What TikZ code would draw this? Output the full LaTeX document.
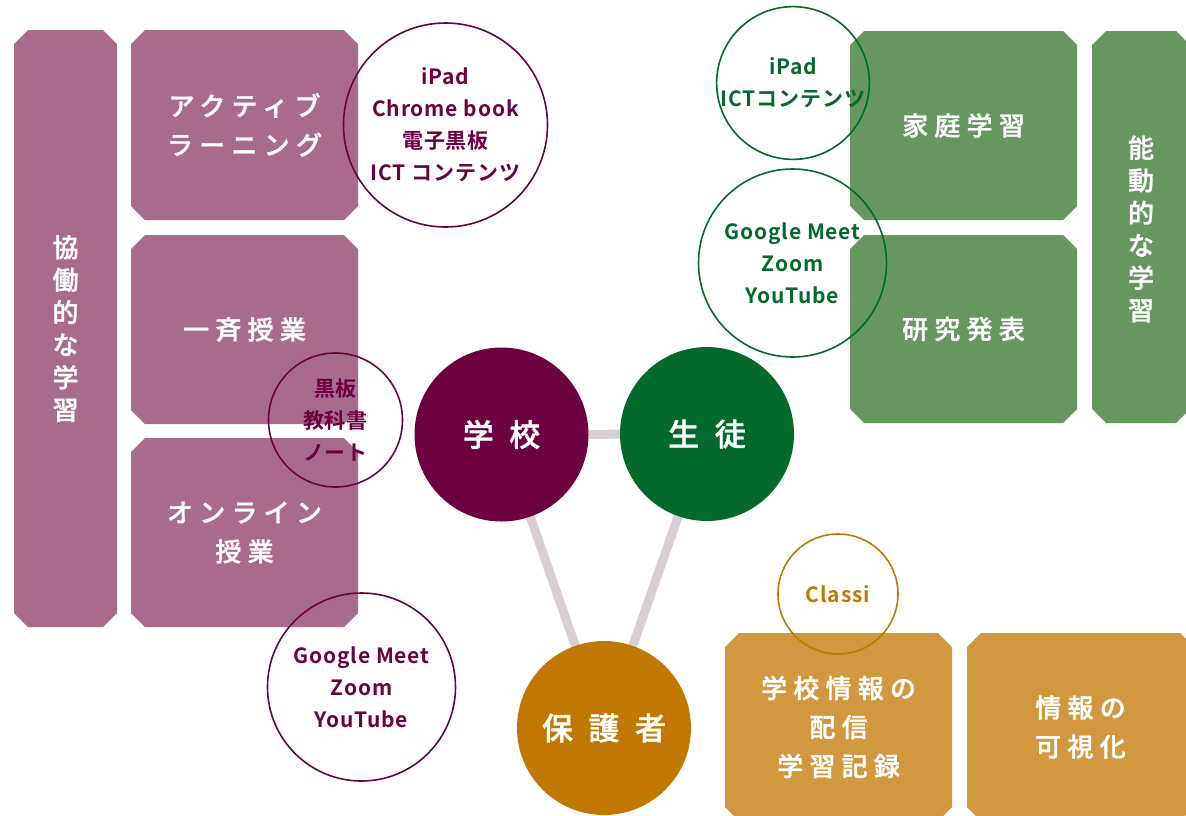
\documentclass[tikz,border=0pt]{standalone}
\usepackage{fontspec}
\setmainfont{Noto Sans CJK JP}
\newfontfamily\boxfont[LetterSpace=24]{Noto Sans CJK JP Medium}[FakeBold=1.2]
\newfontfamily\vfont{Noto Sans CJK JP Medium}[FakeBold=1.2]
\newfontfamily\hubfont[LetterSpace=50]{Noto Sans CJK JP Medium}[FakeBold=1.2]
\newfontfamily\toolfont[LetterSpace=4]{Noto Sans CJK JP Bold}
\usetikzlibrary{backgrounds}
\definecolor{pbox}{HTML}{A96B8B}
\definecolor{gbox}{HTML}{65975F}
\definecolor{obox}{HTML}{D1983F}
\definecolor{pdark}{HTML}{6D0041}
\definecolor{gdark}{HTML}{036A2B}
\definecolor{odark}{HTML}{C07800}
\definecolor{linkc}{HTML}{D9CED4}
\tikzset{
  txtbox/.style={text=white, font=\boxfont\fontsize{26}{39}\selectfont, align=center, inner sep=0pt},
  vtxt/.style={text=white, font=\vfont\fontsize{26}{32.5}\selectfont, align=center, inner sep=0pt},
  hub/.style={circle, minimum size=174pt, inner sep=0pt, text=white, font=\hubfont\fontsize{31}{36}\selectfont},
  tool/.style={circle, draw, line width=1.6pt, inner sep=0pt, align=center, font=\toolfont\fontsize{21}{32}\selectfont},
  link/.style={line width=9pt, draw=linkc}
}
% name, x1, y1, x2, y2, colour, style, text
\newcommand{\chbox}[8]{%
  \fill[#6] (#2+14,#3) -- (#4-14,#3) -- (#4,#3+14) -- (#4,#5-14) -- (#4-14,#5) -- (#2+14,#5) -- (#2,#5-14) -- (#2,#3+14) -- cycle;
  \node[#7] (#1) at ({(#2+#4)/2},{(#3+#5)/2}) {#8};
}
\begin{document}
\begin{tikzpicture}[x=1pt,y=-1pt]
\useasboundingbox (0,0) rectangle (1186,815);
% purple boxes
\chbox{coll}{14}{30}{117}{627}{pbox}{vtxt}{協\\働\\的\\な\\学\\習}
\chbox{act}{131}{30}{358}{220}{pbox}{txtbox}{アクティブ\\ラーニング}
\chbox{issei}{131}{235}{358}{424}{pbox}{txtbox}{一斉授業}
\chbox{online}{131}{438}{358}{627}{pbox}{txtbox}{オンライン\\授業}
% green boxes
\chbox{home}{850}{31}{1077}{220}{gbox}{txtbox}{家庭学習}
\chbox{research}{850}{235}{1077}{423}{gbox}{txtbox}{研究発表}
\fill[gbox] (1106,31) -- (1176,31) -- (1190,45) -- (1190,409) -- (1176,423) -- (1106,423) -- (1092,409) -- (1092,45) -- cycle;
\node[vtxt] (nodo) at (1141,229) {能\\動\\的\\な\\学\\習};
% orange boxes
\chbox{info}{725}{633}{952}{821}{obox}{txtbox}{学校情報の\\配信\\学習記録}
\chbox{visual}{967}{633}{1194}{821}{obox}{txtbox}{情報の\\可視化}
% hubs
\node[hub, fill=pdark] (school) at (501.5,434.5) {学校};
\node[hub, fill=gdark] (student) at (707,434) {生徒};
\node[hub, fill=odark] (parent) at (604,728) {保護者};
\begin{scope}[on background layer]
  \draw[link] (school) -- (student);
  \draw[link] (school) -- (parent);
  \draw[link] (student) -- (parent);
\end{scope}
% tool circles
\node[tool, draw=pdark, text=pdark, minimum size=204pt] (p1) at (445.5,125) {iPad\\Chrome book\\電子黒板\\ICT コンテンツ};
\node[tool, draw=pdark, text=pdark, minimum size=134pt] (p2) at (335.5,420) {黒板\\教科書\\ノート};
\node[tool, draw=pdark, text=pdark, minimum size=188pt] (p3) at (361.5,687) {Google Meet\\Zoom\\YouTube};
\node[tool, draw=gdark, text=gdark, minimum size=150pt] (g1) at (793,83) {iPad\\ICTコンテンツ};
\node[tool, draw=gdark, text=gdark, minimum size=188pt] (g2) at (792.5,263) {Google Meet\\Zoom\\YouTube};
\node[tool, draw=odark, text=odark, minimum size=120pt] (o1) at (838,594) {Classi};
\end{tikzpicture}
\end{document}
